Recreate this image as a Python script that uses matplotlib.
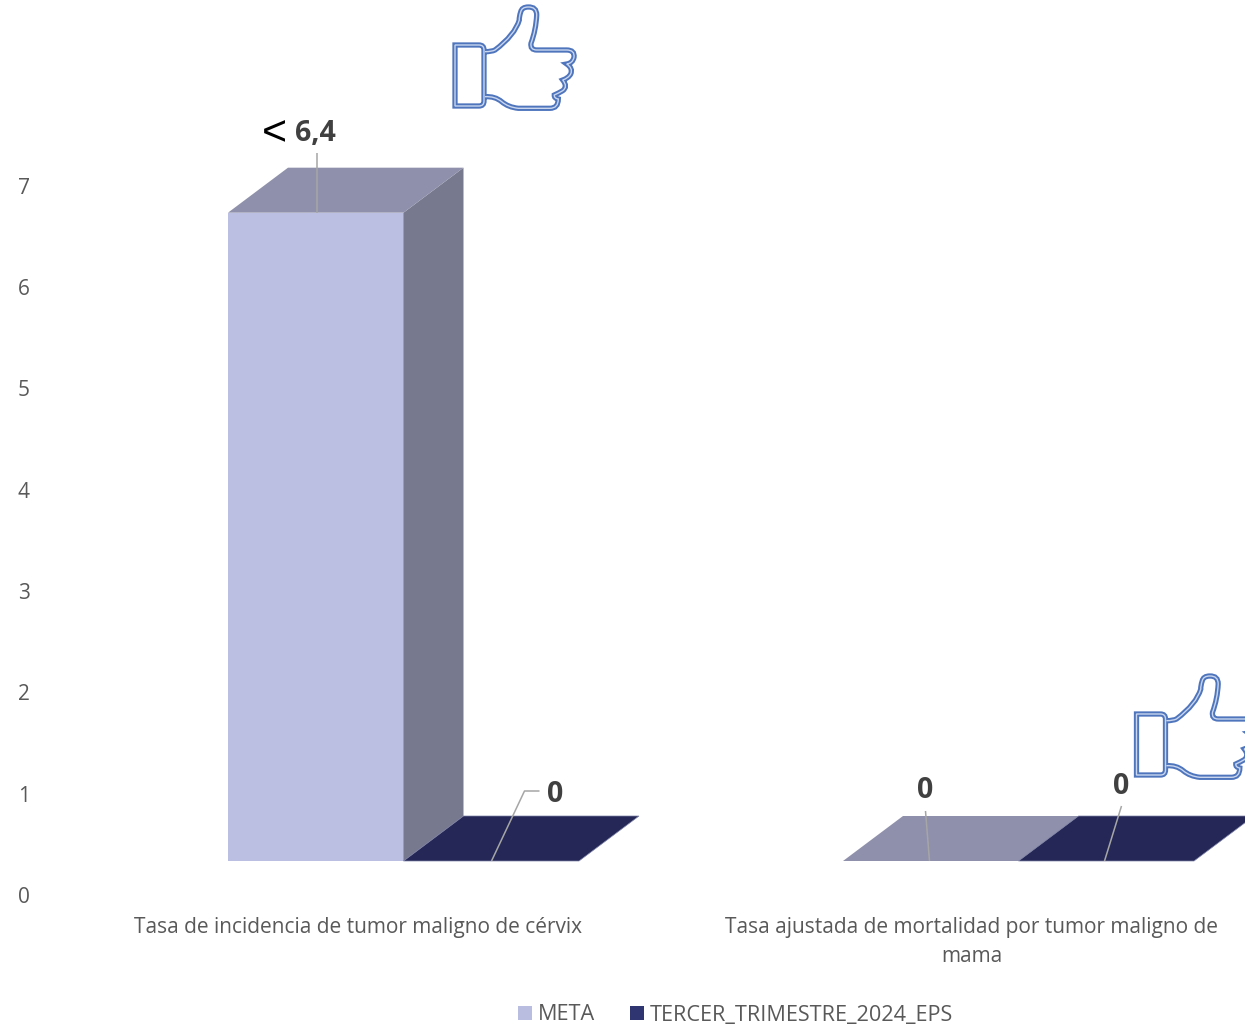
import matplotlib
matplotlib.use('Agg')
from matplotlib import pyplot as plt
from matplotlib.patches import Polygon, PathPatch, Patch
from matplotlib.path import Path
from matplotlib.transforms import Affine2D, IdentityTransform

plt.rcParams['font.family'] = ['Open Sans', 'DejaVu Sans']

categories = ["Tasa de incidencia de tumor maligno de cérvix",
              "Tasa ajustada de mortalidad por tumor maligno de\nmama"]
meta = [6.4, 0]
eps = [0, 0]
y_ticks = [0, 1, 2, 3, 4, 5, 6, 7]
meta_labels = ["6,4", "0"]
eps_labels = ["0", "0"]

W, H = 1245, 1029
px = 1 / 100
X_UNIT = 615.0    # pixels per category
Y_UNIT = 101.3    # pixels per value unit
BAR_W = 175.5 / X_UNIT
DEPTH_X = 60 / X_UNIT
DEPTH_Y = 45 / Y_UNIT
FLOOR = 34 / Y_UNIT   # front of the bars sits above the tick for 0
TEXT = '#595959'
LABEL = '#404040'
LEADER = '#a6a6a6'

# thumb outline in pixels from the top left of the cuff, y going down
THUMB_START = (30, 6.7)
THUMB_SEGS = [
    ((36.7, 6.7), (40, 5)), ((60, -10), (64.3, -25)), ((64, -28), (65.7, -33)),
    ((66.7, -38), (73.3, -38)), ((81.7, -38.3), (81.7, -30)), ((81, -15), (76, -1.7)),
    ((75, 5), (81.7, 5)), (None, (111.7, 5)), ((120, 5), (119, 12.3)),
    ((117.7, 18.3), (111.7, 19)), ((118.3, 23.3), (115.7, 29)), ((113.3, 33.3), (107.7, 35)),
    ((113.3, 41.7), (107.7, 45.7)), ((103.3, 48.3), (99.3, 50)), ((99, 53.3), (103.3, 54)),
    ((103.3, 63.3), (95, 63.3)), (None, (63.3, 63.3)), ((53.3, 62.3), (46.7, 56.7)),
    ((40, 51), (30, 51.7)),
]
CUFF_W = 29
CUFF_H = 61


def bar3d(ax, x0, value, front, top, side, edge='none'):
    x1 = x0 + BAR_W
    y0 = FLOOR
    y1 = FLOOR + value
    if value > 0:
        ax.add_patch(Polygon([(x0, y0), (x1, y0), (x1, y1), (x0, y1)], fc=front, ec='none'))
        ax.add_patch(Polygon([(x1, y0), (x1 + DEPTH_X, y0 + DEPTH_Y), (x1 + DEPTH_X, y1 + DEPTH_Y), (x1, y1)],
                             fc=side, ec='none'))
    ax.add_patch(Polygon([(x0, y1), (x1, y1), (x1 + DEPTH_X, y1 + DEPTH_Y), (x0 + DEPTH_X, y1 + DEPTH_Y)],
                         fc=top, ec=edge, lw=0.5))


def leader(ax, x, value, text, pts, tx, ty):
    # pts and tx, ty are pixel offsets from the point on the bar
    y = value + FLOOR
    ox, oy = ax.transData.transform((x, y))
    xs = [ox + p[0] for p in pts]
    ys = [oy + p[1] for p in pts]
    ax.plot(xs, ys, color=LEADER, lw=1.1, transform=IdentityTransform(), zorder=4, solid_capstyle='butt')
    ax.annotate(text, xy=(x, y), xytext=(tx, ty), textcoords='offset pixels', ha='center', va='center',
                fontsize=20.5, fontweight='bold', color=LABEL, zorder=5)


def thumb(ax, left, top):
    r = 5
    verts = [(0, 0), (CUFF_W - r, 0), (CUFF_W, 0), (CUFF_W, r), (CUFF_W, CUFF_H - r), (CUFF_W, CUFF_H),
             (CUFF_W - r, CUFF_H), (0, CUFF_H), (0, 0)]
    codes = [Path.MOVETO, Path.LINETO, Path.CURVE3, Path.CURVE3, Path.LINETO, Path.CURVE3, Path.CURVE3,
             Path.LINETO, Path.CLOSEPOLY]
    verts.append(THUMB_START)
    codes.append(Path.MOVETO)
    for ctrl, end in THUMB_SEGS:
        if ctrl is None:
            verts.append(end)
            codes.append(Path.LINETO)
        else:
            verts += [ctrl, end]
            codes += [Path.CURVE3, Path.CURVE3]
    tr = Affine2D().scale(1, -1).translate(left, H - top)
    for lw, col in [(3.8, '#4f75bd'), (1.0, '#c9d6ee')]:
        ax.add_patch(PathPatch(Path(verts, codes), fc='none', ec=col, lw=lw, transform=tr, zorder=6))


fig = plt.figure(figsize=(W * px, H * px), dpi=100)
ax = fig.add_axes([0, 0, 1, 1])
ax.set_xlim(-403.5 / X_UNIT, (W - 403.5) / X_UNIT)
ax.set_ylim((895 - H) / Y_UNIT, 895 / Y_UNIT)
for s in ax.spines.values():
    s.set_visible(False)
ax.set_xticks([])
ax.set_yticks(y_ticks)
ax.tick_params(axis='y', length=0, pad=-21.3, labelsize=15, labelcolor=TEXT)

for i in range(len(categories)):
    bar3d(ax, i - BAR_W, meta[i], '#bbbfe2', '#8f90ab', '#777a8e')
    bar3d(ax, i, eps[i], '#252856', '#252856', '#1c1e40', edge='#7f82a8')
    n_lines = categories[i].count('\n')
    ax.text(i - (45 + 2 * i) / X_UNIT, (895 - 927 - 15 * n_lines) / Y_UNIT, categories[i], ha='center',
            va='center', fontsize=15, color=TEXT, linespacing=1.56)

# data labels with their leader lines
leader(ax, 0 - 87 / X_UNIT, meta[0], meta_labels[0], [(0, 0), (0, 60)], -1, 79)
ax.annotate('<', xy=(0 - 87 / X_UNIT, meta[0] + FLOOR), xytext=(-42, 78), textcoords='offset pixels',
            ha='center', va='center', fontsize=31, color='black', zorder=5, family='Liberation Sans')
leader(ax, 88 / X_UNIT, eps[0], eps_labels[0], [(0, 0), (33, 70), (48, 70)], 64, 66)
leader(ax, 1 - 89 / X_UNIT, meta[1], meta_labels[1], [(0, 0), (-4, 50)], -4, 71)
leader(ax, 1 + 86 / X_UNIT, eps[1], eps_labels[1], [(0, 0), (17, 55)], 17, 75)

thumb(ax, 455, 45)
thumb(ax, 1136.5, 714)

handles = [Patch(fc='#b9bde0', ec='none', label='META'),
           Patch(fc='#2e3570', ec='none', label='TERCER_TRIMESTRE_2024_EPS')]
ax.legend(handles=handles, ncol=2, loc='center', bbox_to_anchor=(735.5 / W, 1 - 1015 / H), frameon=False,
          fontsize=15.6, labelcolor=TEXT, handlelength=0.65, handleheight=0.65, handletextpad=0.28,
          columnspacing=1.6, borderpad=0)

fig.savefig('out.png', dpi=100)
